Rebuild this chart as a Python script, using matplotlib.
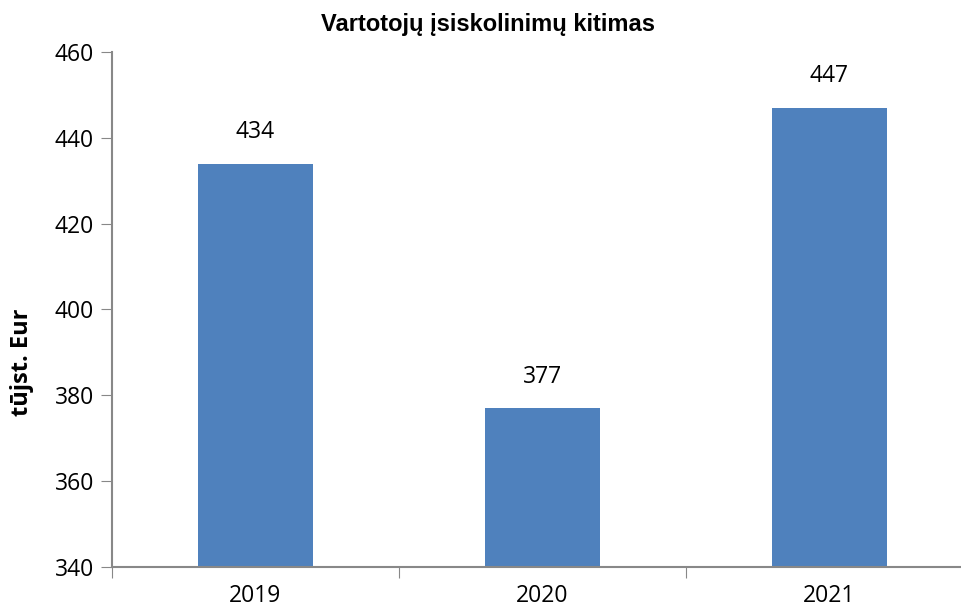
import matplotlib
matplotlib.use("Agg")
import matplotlib.pyplot as plt

years = ["2019", "2020", "2021"]
values = [434, 377, 447]
yticks = [340, 360, 380, 400, 420, 440, 460]

W, H = 962, 611
fig = plt.figure(figsize=(W / 100, H / 100), dpi=100)
left, right, bottom, top = 112, 973, 567, 52
ax = fig.add_axes([left / W, (H - bottom) / H, (right - left) / W, (bottom - top) / H])

FS = 16.5
x = list(range(len(years)))
ax.bar(x, values, width=0.4, color="#4F81BD", zorder=2)
ax.set_xlim(-0.5, 2.5)
ax.set_ylim(340, 460)
ax.set_yticks(yticks)
ax.set_yticklabels([str(v) for v in yticks], fontsize=FS, family="Open Sans")

ax.set_xticks([-0.5, 0.5, 1.5, 2.5])
ax.set_xticklabels([])
ax.set_xticks(x, minor=True)
ax.set_xticklabels(years, minor=True, fontsize=FS, family="Open Sans")
ax.tick_params(axis="x", which="minor", length=0, pad=12)
ax.tick_params(axis="x", which="major", length=8, color="#888888", direction="out")
ax.tick_params(axis="y", length=8, color="#888888", direction="out", pad=5)

for s in ["top", "right"]:
    ax.spines[s].set_visible(False)
for s in ["left", "bottom"]:
    ax.spines[s].set_color("#888888")
    ax.spines[s].set_linewidth(1.5)
ax.spines["bottom"].set_zorder(3)

for xi, v in zip(x, values):
    ax.annotate(str(v), (xi, v), xytext=(0, 14), textcoords="offset points",
                ha="center", va="bottom", fontsize=FS, family="Open Sans")

ax.set_ylabel("tūjst. Eur", fontsize=17, fontweight="bold", family="Open Sans")
ax.yaxis.set_label_coords((34 - left) / (right - left), (bottom - 362) / (bottom - top))
fig.text(488 / W, 1 - 25 / H, "Vartotojų įsiskolinimų kitimas", ha="center", va="center",
         fontsize=17, fontweight="bold", family="Liberation Sans")

fig.savefig("out.png", dpi=100)
